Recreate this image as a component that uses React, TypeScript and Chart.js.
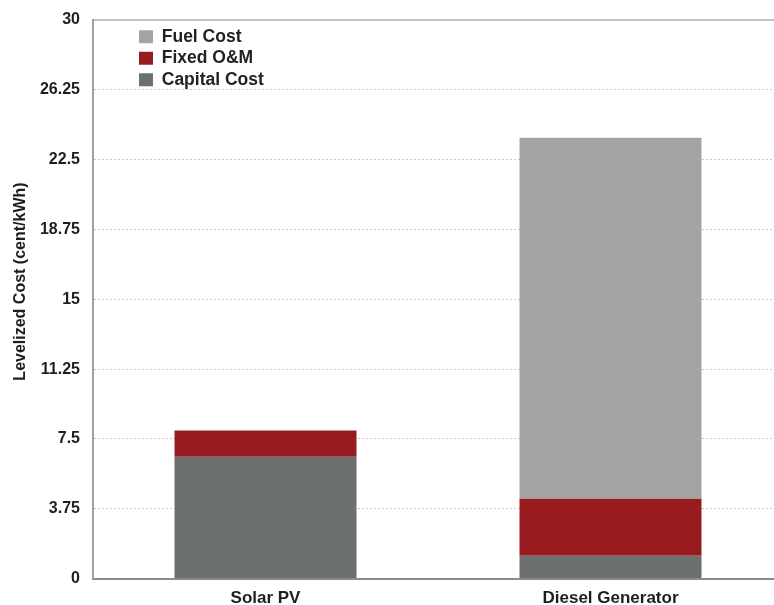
import React, { useEffect, useRef } from "react";
import { Chart, registerables } from "chart.js";

Chart.register(...registerables);

const categories = ["Solar PV", "Diesel Generator"];
const capitalCost = [6.55, 1.23];
const fixedOM = [1.4, 3.06];
const fuelCost = [0, 19.38];
const yTickValues = [0, 3.75, 7.5, 11.25, 15, 18.75, 22.5, 26.25, 30];
const yTitle = "Levelized Cost (cent/kWh)";

const FONT = "'Liberation Sans', Arial, Helvetica, sans-serif";

const legendShift = {
  id: "legendShift",
  afterLayout(chart: any) {
    const l = chart.legend;
    if (!l) return;
    const ca = chart.chartArea;
    const w = l.width;
    const h = l.height;
    l.left = ca.left + 42;
    l.right = l.left + w;
    l.top = ca.top + 4;
    l.bottom = l.top + h;
  },
};

export default function App() {
  const ref = useRef<HTMLCanvasElement | null>(null);
  useEffect(() => {
    const canvas = ref.current;
    if (!canvas) return;
    const chart = new Chart(canvas, {
      type: "bar",
      data: {
        labels: categories,
        datasets: [
          { label: "Capital Cost", data: capitalCost, backgroundColor: "#6c706e", xAxisID: "x" },
          { label: "Fixed O&M", data: fixedOM, backgroundColor: "#971b1f", xAxisID: "x" },
          { label: "Fuel Cost", data: fuelCost, backgroundColor: "#a3a3a3", xAxisID: "x" },
        ],
      },
      options: {
        animation: false,
        responsive: true,
        maintainAspectRatio: false,
        layout: { padding: { top: 20, left: 0, right: 0, bottom: 0 } },
        datasets: { bar: { categoryPercentage: 1, barPercentage: 0.5275 } },
        plugins: {
          legend: {
            position: "chartArea",
            align: "start",
            reverse: true,
            labels: {
              boxWidth: 14,
              boxHeight: 13,
              padding: 4,
              color: "#222",
              font: { family: FONT, size: 17.5, weight: "bold" },
            },
          },
          tooltip: { enabled: false },
        },
        scales: {
          x: {
            stacked: true,
            position: "bottom",
            grid: { display: false, drawTicks: false },
            border: { display: true, color: "#8a8a8a", width: 2 },
            ticks: { color: "#1e1e1e", padding: 10, font: { family: FONT, size: 17, weight: "bold" } },
          },
          x2: {
            type: "category",
            position: "top",
            grid: { display: false, drawTicks: false },
            ticks: { display: false },
            border: { display: true, color: "#c2c2c2", width: 2 },
          },
          y: {
            stacked: true,
            min: 0,
            max: 30,
            afterBuildTicks: (scale: any) => {
              scale.ticks = yTickValues.map((v) => ({ value: v }));
            },
            afterFit: (scale: any) => {
              scale.width = 93;
              scale.paddingTop = 0;
              scale.paddingBottom = 0;
            },
            grid: {
              drawTicks: false,
              color: "rgba(200,130,130,0.55)",
              lineWidth: 1,
            },
            border: { display: true, color: "#a0a0a0", width: 2, dash: [2, 2] },
            ticks: {
              color: "#1e1e1e",
              padding: 13,
              font: { family: FONT, size: 16, weight: "bold" },
              callback: (v: any) => String(v),
            },
            title: {
              display: true,
              text: "        " + yTitle,
              color: "#1e1e1e",
              padding: { top: 11, bottom: 0 },
              font: { family: FONT, size: 16, weight: "bold" },
            },
          },
        },
      },
      plugins: [legendShift],
    } as any);
    return () => chart.destroy();
  }, []);
  return (
    <div style={{ position: "absolute", left: 0, top: 0, width: 783, height: 619, overflow: "hidden" }}>
      <canvas ref={ref} />
    </div>
  );
}
